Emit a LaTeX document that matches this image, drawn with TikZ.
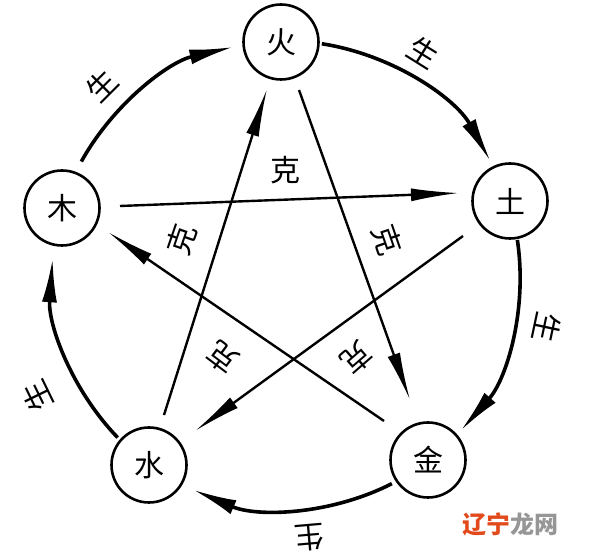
\documentclass[tikz,border=0pt]{standalone}
\usepackage{fontspec}
\newfontfamily\cjk{Noto Sans CJK SC}
\usetikzlibrary{arrows.meta,calc}
\definecolor{wmorange}{RGB}{226,74,28}
\definecolor{wmgray}{RGB}{150,150,150}
\begin{document}
\begin{tikzpicture}[x=1pt,y=1pt,
  elem/.style={circle,draw,line width=2.6pt,minimum size=75pt,inner sep=0pt,font=\cjk\fontsize{30}{30}\selectfont},
  lbl/.style={inner sep=0pt,font=\cjk\fontsize{30}{30}\selectfont},
  genline/.style={line width=3.6pt,-{Latex[length=44pt,width=15pt]}},
  keline/.style={line width=2.4pt,-{Latex[length=48pt,width=13pt]}},
  wmark/.style={inner sep=0pt,font=\cjk\bfseries\fontsize{24}{24}\selectfont}]
\useasboundingbox (0,0) rectangle (597,556);
\fill[white] (0,0) rectangle (597,556);
\coordinate (C) at (286,281);
% elements
\node[elem] (huo)  at (281,514) {火};
\node[elem] (mu)   at (62,348)  {木};
\node[elem] (tu)   at (510,355) {土};
\node[elem] (shui) at (149,91)  {水};
\node[elem] (jin)  at (428,96)  {金};
% generating cycle (arcs on the big circle)
\draw[genline] ([shift={(151:234)}]C) arc[start angle=151, end angle=103, radius=234];
\draw[genline] ([shift={(81.2:234)}]C) arc[start angle=81.2, end angle=29.1, radius=234];
\draw[genline] ([shift={(8.6:234)}]C) arc[start angle=8.6, end angle=-41.7, radius=234];
\draw[genline] ([shift={(-63.1:234)}]C) arc[start angle=-63.1, end angle=-113.4, radius=234];
\draw[genline] ([shift={(224:234)}]C) arc[start angle=224, end angle=175.9, radius=234];
% controlling star
\draw[keline] ($(mu)+(58,2)$) -- ($(tu)+(-51,8)$);
\draw[keline] ($(tu)+(-47,-35)$) -- ($(shui)+(46,34)$);
\draw[keline] ($(shui)+(15,50)$) -- ($(huo)+(-14,-47)$);
\draw[keline] ($(huo)+(18,-48)$) -- ($(jin)+(-18,60)$);
\draw[keline] ($(jin)+(-44,39)$) -- ($(mu)+(46,-24)$);
% labels sheng
\node[lbl,rotate=45]   (s1) at (102,470) {生};
\node[lbl,rotate=-32]  (s2) at (424,504) {生};
\node[lbl,rotate=-102] (s3) at (547,228) {生};
\node[lbl,rotate=-175] (s4) at (310,18)  {生};
\node[lbl,rotate=116]  (s5) at (37,160)  {生};
% labels ke
\node[lbl]             (k1) at (285,386) {克};
\node[lbl,rotate=71]   (k2) at (182,316) {克};
\node[lbl,rotate=-71]  (k3) at (387,316) {克};
\node[lbl,rotate=143]  (k4) at (223,198) {克};
\node[lbl,rotate=-139] (k5) at (357,198) {克};
% watermark
\node[wmark] (wm) at (510,32) {\textcolor{wmorange}{辽宁}\textcolor{wmgray}{龙网}};
\end{tikzpicture}
\end{document}
